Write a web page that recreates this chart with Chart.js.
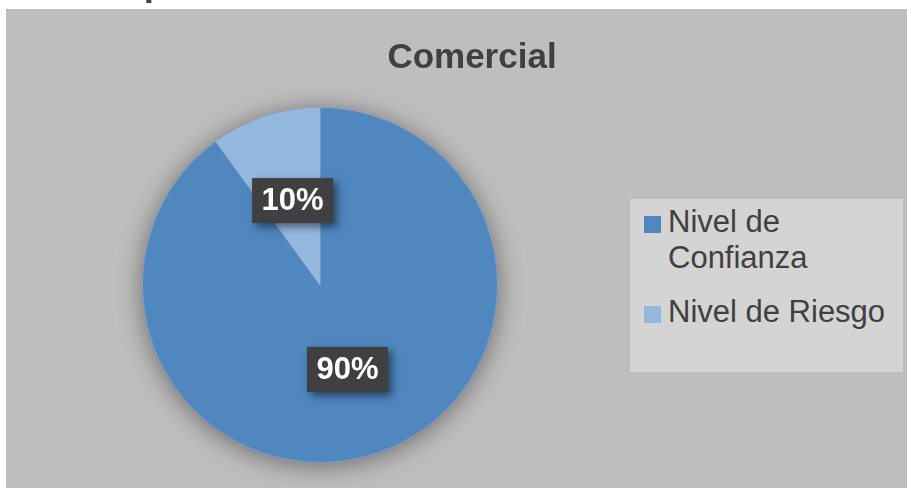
<html>
  <head>
    <title>Nivel de Confianza - Comercial</title>
    <script src="https://cdn.jsdelivr.net/npm/chart.js"></script>
    <style>
      body {
        margin: 0;
        background: #ffffff;
        font-family: "Liberation Sans", Arial, sans-serif;
      }
      .wrap {
        position: relative;
        width: 907px;
        height: 488px;
      }
      /* legend box on the right */
      .legend {
        position: absolute;
        left: 630px;
        top: 199px;
        width: 273px;
        height: 173px;
        background: #d4d4d4;
        color: #404040;
        font-size: 31px;
        line-height: 36px;
      }
      .legend .item {
        position: absolute;
        left: 38px;
        width: 232px;
      }
      .legend .sw {
        position: absolute;
        left: -24px;
        top: 12px;
        width: 17px;
        height: 17px;
      }
    </style>
  </head>
  <body>
    <div class="wrap">
      <canvas id="pieChart" width="907" height="488"></canvas>
      <div class="legend" id="legend"></div>
    </div>

    <script>
      // chart data
      const labels = ['Nivel de Confianza', 'Nivel de Riesgo'];
      const values = [90, 10];
      const colors = ['#4f87be', '#95b8df'];
      const titleLines = ['Gráfico N° 6: Nivel de Confianza del Control', 'Comercial'];

      const total = values.reduce((a, b) => a + b, 0);

      // background, title, pie shadow and value boxes
      const decor = {
        id: 'decor',
        beforeDraw(chart) {
          const c = chart.ctx;
          c.save();
          c.fillStyle = '#ffffff';
          c.fillRect(0, 0, chart.width, chart.height);
          c.fillStyle = '#bebebe';
          c.fillRect(6, 9, chart.width - 6, chart.height - 9);
          c.fillStyle = '#404040';
          c.textAlign = 'center';
          c.textBaseline = 'alphabetic';
          c.font = 'bold 35px "Liberation Sans", Arial, sans-serif';
          c.fillText(titleLines[0], 462, -2);
          c.fillText(titleLines[1], 472, 68);
          c.restore();
        },
        beforeDatasetsDraw(chart) {
          const arc = chart.getDatasetMeta(0).data[0];
          const c = chart.ctx;
          c.save();
          c.shadowColor = 'rgba(0,0,0,0.45)';
          c.shadowBlur = 26;
          c.shadowOffsetY = 3;
          c.fillStyle = colors[0];
          c.beginPath();
          c.arc(arc.x, arc.y, arc.outerRadius, 0, Math.PI * 2);
          c.fill();
          c.restore();
        },
        afterDatasetsDraw(chart) {
          const c = chart.ctx;
          const meta = chart.getDatasetMeta(0);
          c.save();
          c.font = 'bold 31px "Liberation Sans", Arial, sans-serif';
          c.textAlign = 'center';
          c.textBaseline = 'middle';
          meta.data.forEach((el, i) => {
            const p = el.tooltipPosition();
            const txt = Math.round(values[i] / total * 100) + '%';
            const w = 81, h = 45;
            c.save();
            c.shadowColor = 'rgba(0,0,0,0.5)';
            c.shadowBlur = 8;
            c.shadowOffsetX = 4;
            c.shadowOffsetY = 4;
            c.fillStyle = '#404040';
            c.fillRect(p.x - w / 2, p.y - h / 2, w, h);
            c.restore();
            c.fillStyle = '#ffffff';
            c.fillText(txt, p.x, p.y + 1);
          });
          c.restore();
        }
      };

      const ctx = document.getElementById('pieChart').getContext('2d');
      const pieChart = new Chart(ctx, {
        type: 'pie',
        data: {
          labels: labels,
          datasets: [{
            data: values,
            backgroundColor: colors,
            borderColor: 'rgba(150,170,200,0.6)',
            borderWidth: 1
          }]
        },
        options: {
          responsive: false,
          animation: false,
          layout: {
            padding: { left: 142, right: 409, top: 107, bottom: 25 }
          },
          plugins: {
            legend: { display: false },
            title: { display: false },
            tooltip: { enabled: false }
          }
        },
        plugins: [decor]
      });

      // legend
      const leg = document.getElementById('legend');
      const tops = [5, 95];
      labels.forEach((lab, i) => {
        const item = document.createElement('div');
        item.className = 'item';
        item.style.top = tops[i] + 'px';
        item.innerHTML = '<span class="sw" style="background:' + colors[i] + '"></span>' + lab;
        leg.appendChild(item);
      });
    </script>
  </body>
</html>
